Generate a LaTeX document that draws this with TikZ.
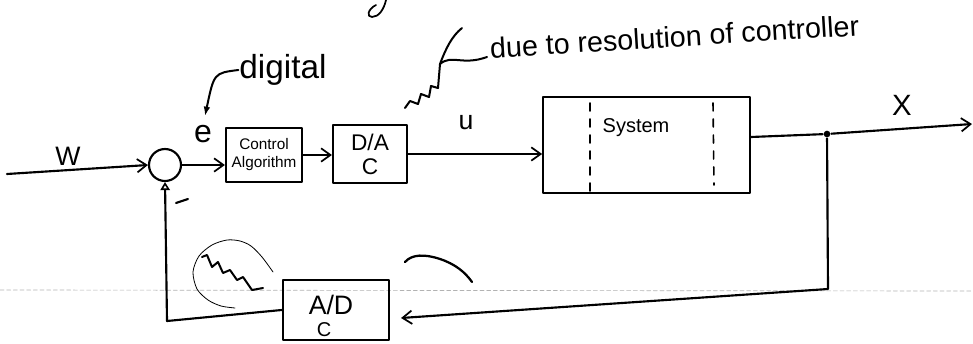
\documentclass[tikz,border=0pt]{standalone}
\usepackage{fontspec}
\setmainfont{Liberation Sans}
\usetikzlibrary{arrows.meta,decorations.pathmorphing,calc}
\begin{document}
\begin{tikzpicture}[x=0.75pt,y=-0.75pt,
  line width=1.6pt, line join=round, line cap=round,
  blk/.style={draw, line width=1.6pt, inner sep=0pt, align=center},
  arr/.style={-{Straight Barb[length=7pt,width=10pt,line width=1.3pt]}},
  lbl/.style={inner sep=0pt},
  note/.style={inner sep=0pt},
  thinline/.style={line width=0.6pt},
  ruled/.style={line width=0.5pt, gray!60, dash pattern=on 3pt off 2pt},
]
\useasboundingbox (0,0) rectangle (973,343);
\clip (0,0) rectangle (973,343);

% faint ruled line of the paper
\draw[ruled] (0,290) -- (973,291);

% partial letter at top
\draw[line width=1.3pt] (386,0) .. controls (384,9) and (379,17) .. (372,17)
  .. controls (366,17) and (368,9) .. (376,5);

% blocks
\node[circle, draw, line width=1.6pt, minimum size=24pt, inner sep=0pt] (sum) at (165,165) {};
\node[blk, minimum width=57pt, minimum height=41pt, font=\fontsize{11.5}{13.5}\selectfont] (ctrl) at (264,155) {Control\\Algorithm};
\node[blk, minimum width=55.5pt, minimum height=43.5pt, font=\fontsize{17}{18}\selectfont] (da) at (370,154) {D/A\\C};
\node[blk, minimum width=155pt, minimum height=72pt] (sys) at (646.5,145) {};
\node[font=\fontsize{15}{17}\selectfont, inner sep=0pt] (systxt) at (636,128) {System};
\node[blk, minimum width=80pt, minimum height=45pt] (ad) at (336,310) {};
\node[font=\fontsize{20}{22}\selectfont, inner sep=0pt] (adtxt) at (331,305) {A/D};
\node[font=\fontsize{15}{16}\selectfont, inner sep=0pt] (adc) at (324,330) {C};

% dashed lines inside the system
\draw[line width=1.2pt, dash pattern=on 6pt off 6pt] (590,103) -- (590,193);
\draw[line width=1.2pt, dash pattern=on 6pt off 6pt] (713,103) -- (714,185);

% junction
\node[circle, fill, minimum size=5pt, inner sep=0pt] (junc) at (827,134) {};
\coordinate (win) at (7,174);
\coordinate (xout) at (972,124);
\coordinate (fbr) at (828,289);
\coordinate (fbl) at (167,321);

% connectors
\draw[arr] (win) -- (sum.west);
\draw[arr] (sum.east) -- (sum.east -| ctrl.west);
\draw[arr] (ctrl.east) -- (ctrl.east -| da.west);
\draw[arr] (da.east) -- ($(sys.west)+(0,9)$);
\draw (sys.east |- 0,137) -- (junc);
\draw[arr] (junc) -- (xout);
\draw[arr] (junc) -- (fbr) -- ([xshift=8pt,yshift=-6pt]ad.east);
\draw[-{Triangle[open,length=6pt,width=7pt,line width=1.2pt]}] (ad.west) -- (fbl) -- (sum.south);

% labels
\node[lbl, font=\fontsize{20}{22}\selectfont] (w) at (68,156) {W};
\node[lbl, font=\fontsize{24}{26}\selectfont] (e) at (203,134) {e};
\node[lbl, font=\fontsize{20}{22}\selectfont] (u) at (466,123) {u};
\node[lbl, font=\fontsize{22}{24}\selectfont] (x) at (902,105) {X};
\draw[line width=1.6pt] (176,203) -- (188,199);

% "digital" note
\node[note, font=\fontsize{25}{27}\selectfont] (dig) at (283,70) {digital};
\draw[line width=1.5pt, -{Latex[length=7pt,width=5pt]}] (dig.west) .. controls (214,73) .. (205,116);

% zigzag near D/A and note
\draw[line width=1.5pt] (405,108) -- (410,101) -- (418,104) -- (421,94) -- (429,97) -- (431,86) -- (438,88) -- (440,64)
  .. controls (446,48) and (452,36) .. (462,28);
\draw[line width=1.5pt] (440,64) .. controls (452,54) and (462,66) .. (487,57);
\node[note, font=\fontsize{21.5}{23}\selectfont, rotate=3.5, anchor=west] (res) at (489,48) {due to resolution of controller};

% zigzag near A/D with hand-drawn circle
\draw[line width=1.5pt] (202,257) -- (207,255) -- (212,267) -- (218,262) -- (223,273) -- (230,270)
  -- (237,280) -- (243,277) -- (252,290) -- (263,288);
\draw[thinline] plot[smooth] coordinates {(273,272) (262,257) (251,246) (240,241) (227,240)
  (212,245) (199,256) (193,272) (197,289) (208,300) (221,306) (235,308)};

% curved stroke right of A/D
\draw[line width=1.7pt] (405,262) .. controls (412,254) and (425,254) .. (440,259)
  .. controls (455,264) and (465,272) .. (472,282);
\end{tikzpicture}
\end{document}
